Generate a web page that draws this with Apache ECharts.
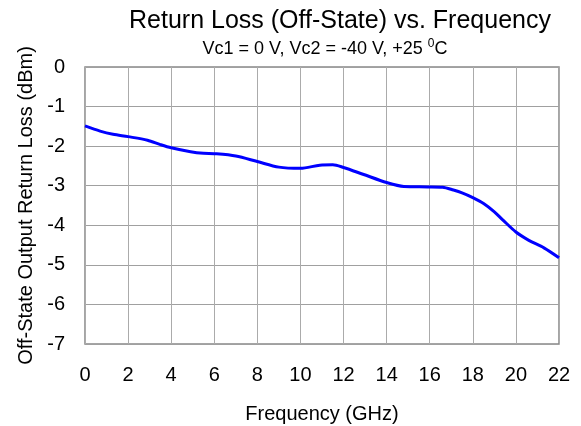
<!DOCTYPE html>
<html>
<head>
<meta charset="utf-8">
<script src="https://cdn.jsdelivr.net/npm/echarts@6/dist/echarts.min.js"></script>
<style>
  html, body { margin: 0; padding: 0; background: #fff; }
  #chart { width: 581px; height: 426px; }
</style>
</head>
<body>
<div id="chart"></div>
<script>
// frequency points (GHz) and off-state output return loss (dBm)
var freq = [0, 0.7, 1.3, 2, 2.9, 3.5, 4, 4.9, 5.5, 6, 7, 8, 9, 10, 10.9, 11.5, 12, 12.9, 14, 14.8, 15.9, 16.6, 17.1, 17.5, 18, 18.5, 19, 19.4, 20, 20.6, 21.3, 22];
var loss = [-1.49, -1.62, -1.70, -1.76, -1.85, -1.96, -2.04, -2.14, -2.18, -2.19, -2.25, -2.39, -2.53, -2.56, -2.48, -2.47, -2.54, -2.71, -2.92, -3.02, -3.03, -3.04, -3.11, -3.18, -3.30, -3.45, -3.66, -3.87, -4.17, -4.38, -4.57, -4.82];
var xTicks = [0, 2, 4, 6, 8, 10, 12, 14, 16, 18, 20, 22];
var yTicks = [0, -1, -2, -3, -4, -5, -6, -7];

var font = 'Liberation Sans, Arial, sans-serif';
var points = [];
for (var i = 0; i < freq.length; i++) {
  points.push([freq[i], loss[i]]);
}

var chart = echarts.init(document.getElementById('chart'));
chart.setOption({
  animation: false,
  graphic: [
    {
      type: 'text', x: 340, y: 21,
      style: { text: 'Return Loss (Off-State) vs. Frequency', font: '25px ' + font, fill: '#000', align: 'center', verticalAlign: 'middle' }
    },
    {
      type: 'text', x: 325, y: 49,
      style: {
        text: 'Vc1 = 0 V, Vc2 = -40 V, +25 {sup|0}C',
        font: '18px ' + font, fill: '#000', align: 'center', verticalAlign: 'middle',
        rich: { sup: { fontSize: 12, fontFamily: font, verticalAlign: 'top', padding: [0, 0, 10, 0] } }
      }
    }
  ],
  grid: {
    left: 85, right: 22, top: 67, bottom: 82,
    containLabel: false, outerBoundsMode: 'none',
    show: true, borderColor: '#888888', borderWidth: 1.5
  },
  xAxis: {
    type: 'value', min: 0, max: 22, interval: 2,
    name: 'Frequency (GHz)', nameLocation: 'middle', nameGap: 60,
    nameTextStyle: { fontFamily: font, fontSize: 20, color: '#000' },
    axisLine: { show: false },
    axisTick: { show: false },
    axisLabel: {
      margin: 21, fontFamily: font, fontSize: 20, color: '#000',
      formatter: function (v) { return xTicks.indexOf(v) >= 0 ? String(v) : ''; }
    },
    splitLine: { show: true, lineStyle: { color: '#ababab', width: 1 } }
  },
  yAxis: {
    type: 'value', min: -7, max: 0, interval: 1,
    name: 'Off-State Output Return Loss (dBm)', nameLocation: 'middle', nameGap: 48,
    nameTextStyle: { fontFamily: font, fontSize: 20, color: '#000' },
    axisLine: { show: false },
    axisTick: { show: false },
    axisLabel: {
      margin: 20, fontFamily: font, fontSize: 20, color: '#000',
      formatter: function (v) { return yTicks.indexOf(v) >= 0 ? String(v) : ''; }
    },
    splitLine: { show: true, lineStyle: { color: '#a0a0a0', width: 1 } }
  },
  series: [{
    type: 'line',
    data: points,
    smooth: 0.3,
    showSymbol: false,
    lineStyle: { color: '#0000ff', width: 3 }
  }]
});
</script>
</body>
</html>
